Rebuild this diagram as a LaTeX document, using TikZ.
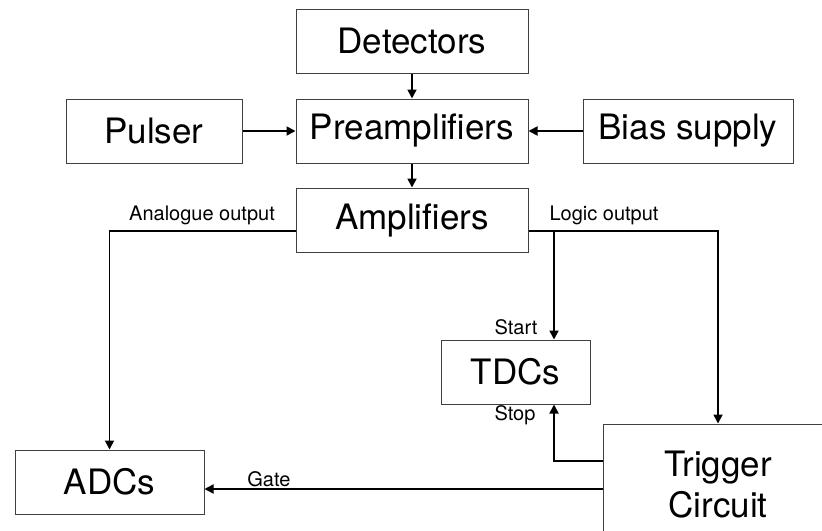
\documentclass[tikz,border=0pt]{standalone}
\usepackage{fontspec}
\setmainfont{TeX Gyre Heros}
\usetikzlibrary{arrows.meta}
\tikzset{
  box/.style={draw=black!75, line width=0.5pt, rectangle, inner sep=0pt, align=center, font=\fontsize{17.5}{20.5}\selectfont},
  lbl/.style={font=\fontsize{10}{12}\selectfont, inner sep=0pt},
  arr/.style={-{Triangle[length=4.5pt,width=4.5pt]}, line width=0.9pt},
}
\begin{document}
\begin{tikzpicture}[x=0.5pt,y=-0.5pt]
\clip (0,0) rectangle (822,530);
% front end
\node[box, minimum width=116pt, minimum height=32pt] (det) at (412,41) {Detectors};
\node[box, minimum width=88pt, minimum height=32pt] (pul) at (154,131) {Pulser};
\node[box, minimum width=116pt, minimum height=32pt] (pre) at (412,131) {Preamplifiers};
\node[box, minimum width=105pt, minimum height=32pt] (bias) at (688,131) {Bias supply};
\node[box, minimum width=116pt, minimum height=32pt] (amp) at (412,220) {Amplifiers};
% digitisers and trigger
\node[box, minimum width=74.5pt, minimum height=32pt] (tdc) at (515.5,372) {TDCs};
\node[box, minimum width=94.5pt, minimum height=32pt] (adc) at (109.5,482) {ADCs};
\node[box, minimum width=115pt, minimum height=61pt] (trig) at (718,485) {Trigger\\Circuit};
\draw[arr] (det) -- (pre);
\draw[arr] (pul) -- (pre);
\draw[arr] (bias) -- (pre);
\draw[arr] (pre) -- (amp);
\draw[arr] ([yshift=-5.5pt]amp.west) -| (adc.north);
\draw[arr] ([yshift=-5.5pt]amp.east) -| (trig.north);
\coordinate (split) at (554,231);
\draw[arr] (split) -- (tdc.north -| split);
\draw[arr] ([yshift=12pt]trig.west) -| (tdc.south -| split);
\draw[arr] ([yshift=-2pt]trig.west) -- ([yshift=-2pt]trig.west -| adc.east);
\node[lbl] (ana) at (202,215) {Analogue output};
\node[lbl] (logic) at (604,215) {Logic output};
\node[lbl] (start) at (516,327) {Start};
\node[lbl] (stop) at (515,415) {Stop};
\node[lbl, anchor=west] (gate) at (247,479) {Gate};
\end{tikzpicture}
\end{document}
